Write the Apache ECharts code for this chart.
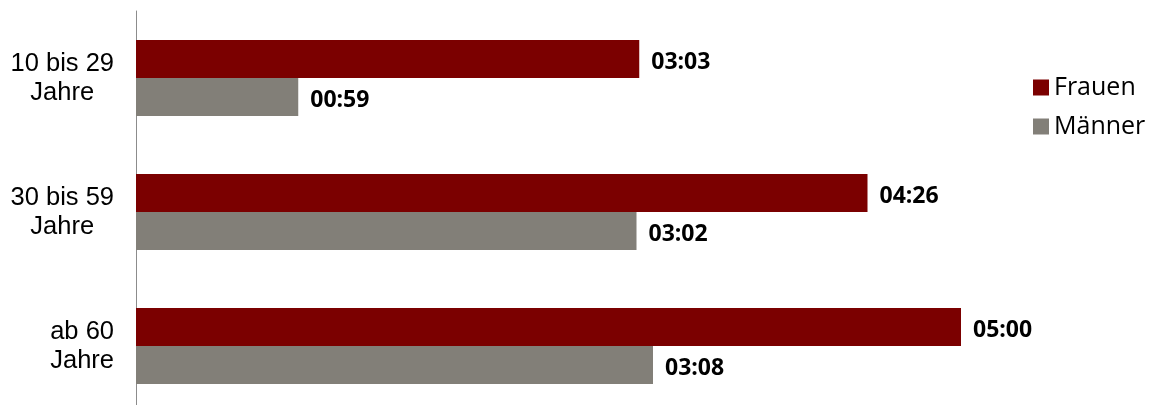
<!DOCTYPE html>
<html>
<head>
<meta charset="utf-8">
<script src="https://cdn.jsdelivr.net/npm/echarts@6/dist/echarts.min.js"></script>
<style>html,body{margin:0;padding:0;background:#fff;overflow:hidden;height:405px;}#c{width:1153px;height:413px;}</style>
</head>
<body>
<div id="c"></div>
<script>
const categories = ['10 bis 29\nJahre', '30 bis 59\nJahre', 'ab 60\nJahre'];
const seriesNames = ['Frauen', 'Männer'];
// durations in minutes
const frauenMinutes = [183, 266, 300];
const maennerMinutes = [59, 182, 188];

function fmt(m) {
  const h = Math.floor(m / 60), mm = m % 60;
  return String(h).padStart(2, '0') + ':' + String(mm).padStart(2, '0');
}

const chart = echarts.init(document.getElementById('c'), null, {renderer: 'canvas'});
const labelStyle = {
  show: true, position: 'right', distance: 12, offset: [0, 3],
  fontFamily: 'Open Sans', fontWeight: 'bold', fontSize: 23, color: '#000',
  formatter: p => fmt(p.value)
};
chart.setOption({
  animation: false,
  grid: {left: 136, right: 27, top: 11, bottom: 0, containLabel: false},
  legend: {
    orient: 'vertical', left: 1028, top: 70,
    itemWidth: 16, itemHeight: 16, itemGap: 14,
    icon: 'rect',
    textStyle: {fontFamily: 'Open Sans', fontSize: 25, color: '#000'},
    data: seriesNames
  },
  xAxis: {type: 'value', min: 0, max: 360, show: false},
  yAxis: {
    type: 'category', inverse: true, data: categories,
    axisLine: {show: true, lineStyle: {color: '#8c8c8c', width: 1}},
    axisTick: {show: false},
    axisLabel: {
      margin: 22, align: 'right',
      fontFamily: 'Liberation Sans, Arial', fontSize: 25.5, color: '#000',
      formatter: v => v.split('\n').map(s => '{a|' + s + '}').join('\n'),
      rich: {a: {align: 'center', fontFamily: 'Liberation Sans, Arial', fontSize: 25.5, lineHeight: 29, color: '#000'}}
    }
  },
  series: [
    {name: seriesNames[0], type: 'bar', data: frauenMinutes, barWidth: 38, barGap: '0%',
     itemStyle: {color: '#7B0000'}, label: labelStyle},
    {name: seriesNames[1], type: 'bar', data: maennerMinutes, barWidth: 38, barGap: '0%',
     itemStyle: {color: '#827F78'}, label: labelStyle}
  ]
});
</script>
</body>
</html>
